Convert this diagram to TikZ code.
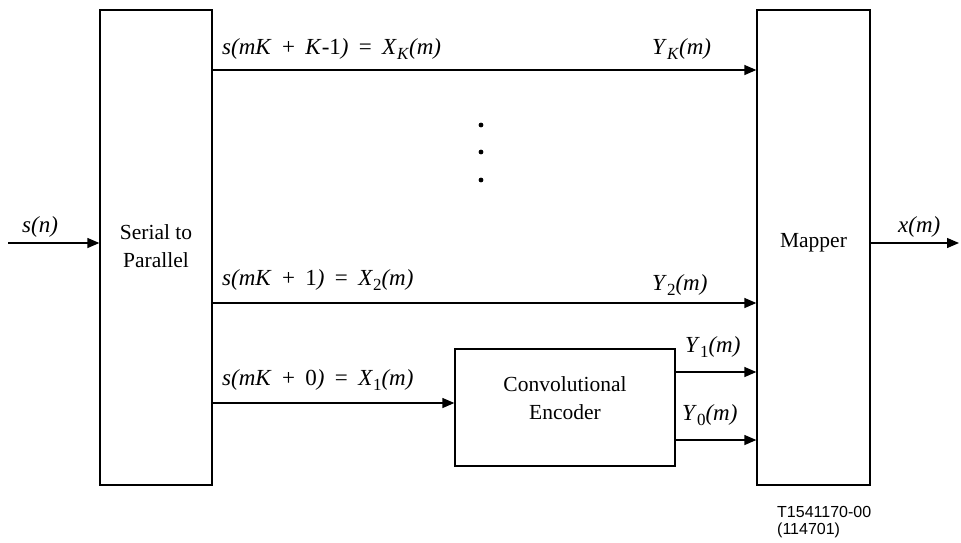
\documentclass[tikz,border=0pt]{standalone}
\usepackage{fontspec}
\setmainfont{Liberation Serif}
\newfontfamily\codefont{Liberation Sans}
\usetikzlibrary{positioning, arrows.meta}

\tikzset{
  block/.style={draw, line width=1.3pt, inner sep=0pt},
  sig/.style={line width=1.3pt, -{Triangle[length=12pt, width=10pt]}},
  lbl/.style={anchor=base west, inner sep=0pt, font=\fontsize{23}{26}\selectfont},
  boxtext/.style={align=center, font=\fontsize{21.5}{28}\selectfont}
}
\newcommand{\sub}[1]{\raisebox{-5pt}{\fontsize{17}{17}\selectfont #1}}
\newcommand{\gap}{\hspace{0.45em}}

\begin{document}
\begin{tikzpicture}[x=1pt, y=-1pt]
  \useasboundingbox (0,0) rectangle (961,542);
  % boxes
  \node[block, minimum width=112pt, minimum height=475pt] (sp) at (156,247.5) {};
  \node[block, minimum width=113pt, minimum height=475pt] (map) at (813.5,247.5) {};
  \node[block, minimum width=220pt, minimum height=117pt] (enc) at (565,407.5) {};
  \node[boxtext] (sptext) at (156,246) {Serial to\\Parallel};
  \node[boxtext] (maptext) at (813.5,243) {Mapper};
  \node[boxtext] (enctext) at (565,398) {Convolutional\\Encoder};

  % row heights
  \coordinate (in) at (8,243);
  \coordinate (out) at (959,243);
  \coordinate (rowk) at (0,70);
  \coordinate (row2) at (0,303);
  \coordinate (row1) at (0,403);
  \coordinate (yone) at (0,372);
  \coordinate (yzero) at (0,440);

  % connectors
  \draw[sig] (in) -- (in -| sp.west);
  \draw[sig] (map.east |- out) -- (out);
  \draw[sig] (sp.east |- rowk) -- (map.west |- rowk);
  \draw[sig] (sp.east |- row2) -- (map.west |- row2);
  \draw[sig] (sp.east |- row1) -- (enc.west |- row1);
  \draw[sig] (enc.east |- yone) -- (map.west |- yone);
  \draw[sig] (enc.east |- yzero) -- (map.west |- yzero);

  % dots
  \foreach \y in {125,152,180}
    \fill (481,\y) circle (2.4pt);

  % labels
  \node[lbl] (labk) at (222,54) {\textit{s(mK}\gap+\gap\textit{K}-1\textit{)}\gap=\gap\textit{X}\sub{\textit{K}}\textit{(m)}};
  \node[lbl] (labyk) at (652,54) {\textit{Y}\sub{\textit{K}}\textit{(m)}};
  \node[lbl] (lab2) at (222,285) {\textit{s(mK}\gap+\gap1\textit{)}\gap=\gap\textit{X}\sub{2}\textit{(m)}};
  \node[lbl] (laby2) at (652,290) {\textit{Y}\sub{2}\textit{(m)}};
  \node[lbl] (lab1) at (222,385) {\textit{s(mK}\gap+\gap0\textit{)}\gap=\gap\textit{X}\sub{1}\textit{(m)}};
  \node[lbl] (laby1) at (685,352) {\textit{Y}\sub{1}\textit{(m)}};
  \node[lbl] (laby0) at (682,420) {\textit{Y}\sub{0}\textit{(m)}};
  \node[lbl] (labin) at (22,232) {\textit{s(n)}};
  \node[lbl] (labout) at (898,232) {\textit{x(m)}};

  % code
  \node[anchor=base west, inner sep=0pt, align=left, font=\codefont\fontsize{16}{17}\selectfont] (code) at (777,534) {T1541170-00\\(114701)};
\end{tikzpicture}
\end{document}
